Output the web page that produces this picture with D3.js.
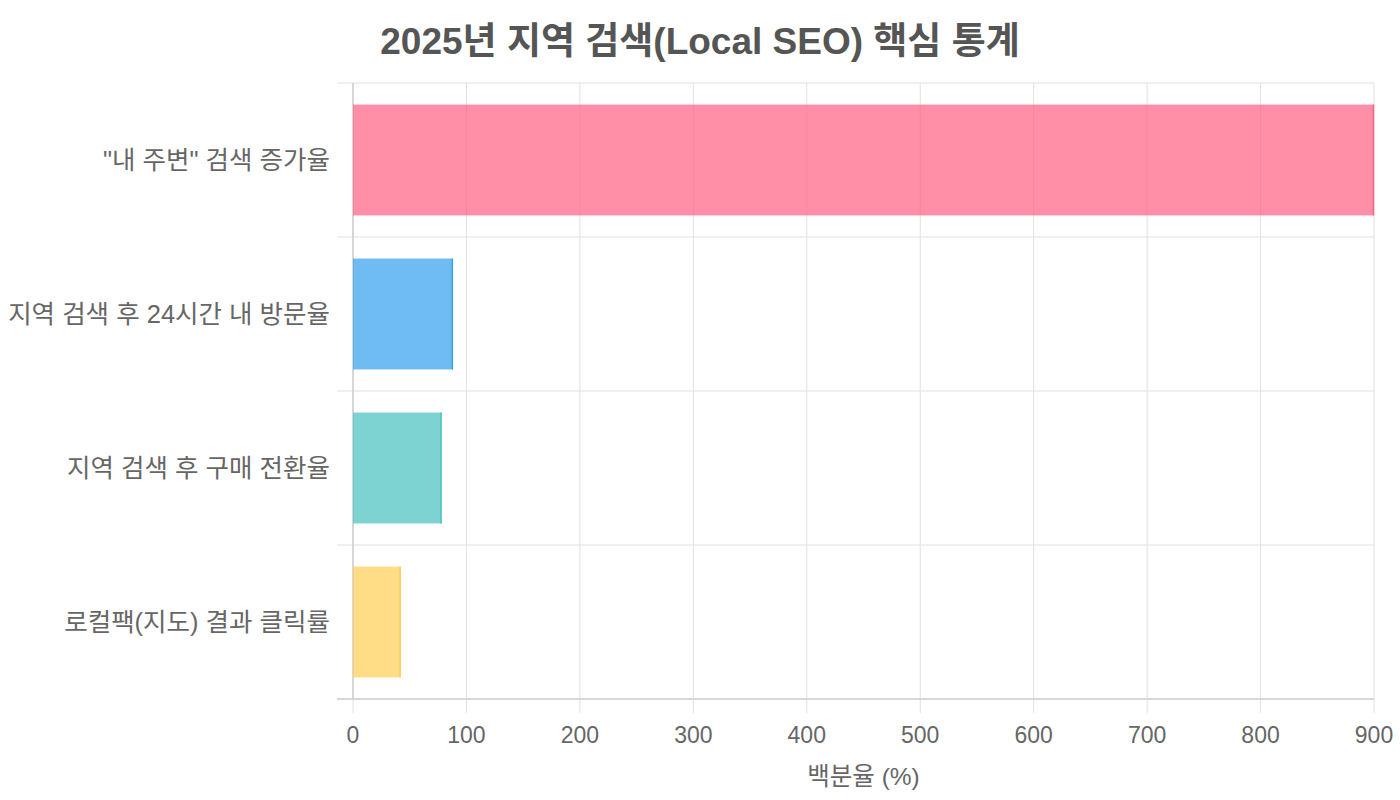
<!DOCTYPE html>
<html>
<head>
<meta charset="utf-8">
<script src="https://cdn.jsdelivr.net/npm/d3@7"></script>
<style>
  body { margin: 0; background: #fff; }
  svg { display: block; font-family: "Liberation Sans", Arial, "Noto Sans CJK KR", sans-serif; }
</style>
</head>
<body>
<div id="chart"></div>
<script>
const title = '2025년 지역 검색(Local SEO) 핵심 통계'
const categories = ['"내 주변" 검색 증가율', '지역 검색 후 24시간 내 방문율', '지역 검색 후 구매 전환율', '로컬팩(지도) 결과 클릭률']
const values = [900, 88, 78, 42]
const barColors = ['#ff6384', '#36a2eb', '#4bc0c0', '#ffce56']
const xTicks = [0, 100, 200, 300, 400, 500, 600, 700, 800, 900]
const xLabel = '백분율 (%)'

const width = 1400, height = 800
const margin = {top: 83, right: 26, bottom: 101, left: 353}
const innerW = width - margin.left - margin.right
const innerH = height - margin.top - margin.bottom

const svg = d3.select('#chart').append('svg')
  .attr('width', width)
  .attr('height', height)

const x = d3.scaleLinear().domain([0, 900]).range([0, innerW])
const y = d3.scaleBand().domain(categories).range([0, innerH]).paddingInner(0).paddingOuter(0)

const g = svg.append('g').attr('transform', `translate(${margin.left},${margin.top})`)

// vertical grid
g.selectAll('line.xgrid')
  .data(xTicks)
  .join('line')
    .attr('class', 'xgrid')
    .attr('x1', d => x(d)).attr('x2', d => x(d))
    .attr('y1', 0).attr('y2', innerH + 14)
    .attr('stroke', '#e1e1e1').attr('stroke-width', 1)

// horizontal grid at band edges
const bandEdges = categories.map(c => y(c)).concat([innerH])
g.selectAll('line.ygrid')
  .data(bandEdges)
  .join('line')
    .attr('class', 'ygrid')
    .attr('x1', -16).attr('x2', innerW)
    .attr('y1', d => d).attr('y2', d => d)
    .attr('stroke', '#e1e1e1').attr('stroke-width', 1)

// axis lines
g.append('line')
  .attr('x1', 0).attr('x2', 0).attr('y1', 0).attr('y2', innerH)
  .attr('stroke', '#cfcfcf').attr('stroke-width', 1.5)
g.append('line')
  .attr('x1', -16).attr('x2', innerW).attr('y1', innerH).attr('y2', innerH)
  .attr('stroke', '#cfcfcf').attr('stroke-width', 1.5)

// bars
const barH = y.bandwidth() * 0.72
const bars = g.selectAll('g.bar')
  .data(values.map((v, i) => ({cat: categories[i], value: v, color: barColors[i]})))
  .join('g')
    .attr('class', 'bar')
bars.append('rect')
  .attr('x', 0)
  .attr('y', d => y(d.cat) + (y.bandwidth() - barH) / 2)
  .attr('width', d => x(d.value))
  .attr('height', barH)
  .attr('fill', d => d.color)
  .attr('fill-opacity', 0.72)
bars.append('line')
  .attr('x1', d => x(d.value) - 0.5).attr('x2', d => x(d.value) - 0.5)
  .attr('y1', d => y(d.cat) + (y.bandwidth() - barH) / 2)
  .attr('y2', d => y(d.cat) + (y.bandwidth() + barH) / 2)
  .attr('stroke', d => d.color).attr('stroke-width', 1.5)

// y labels
g.selectAll('text.ylabel')
  .data(categories)
  .join('text')
    .attr('class', 'ylabel')
    .attr('x', -23)
    .attr('y', d => y(d) + y.bandwidth() / 2)
    .attr('dy', '0.35em')
    .attr('text-anchor', 'end')
    .attr('fill', '#666')
    .style('font-size', '25.5px')
    .text(d => d)

// x tick labels
g.selectAll('text.xlabel')
  .data(xTicks)
  .join('text')
    .attr('class', 'xlabel')
    .attr('x', d => x(d))
    .attr('y', innerH + 36)
    .attr('dy', '0.35em')
    .attr('text-anchor', 'middle')
    .attr('fill', '#666')
    .style('font-size', '23px')
    .text(d => d)

// x axis title
g.append('text')
  .attr('x', innerW / 2)
  .attr('y', innerH + 77)
  .attr('dy', '0.35em')
  .attr('text-anchor', 'middle')
  .attr('fill', '#666')
  .style('font-size', '24.5px')
  .text(xLabel)

// title
svg.append('text')
  .attr('x', 700)
  .attr('y', 41)
  .attr('dy', '0.35em')
  .attr('text-anchor', 'middle')
  .attr('fill', '#555')
  .style('font-size', '37px')
  .style('font-weight', 'bold')
  .text(title)
</script>
</body>
</html>
